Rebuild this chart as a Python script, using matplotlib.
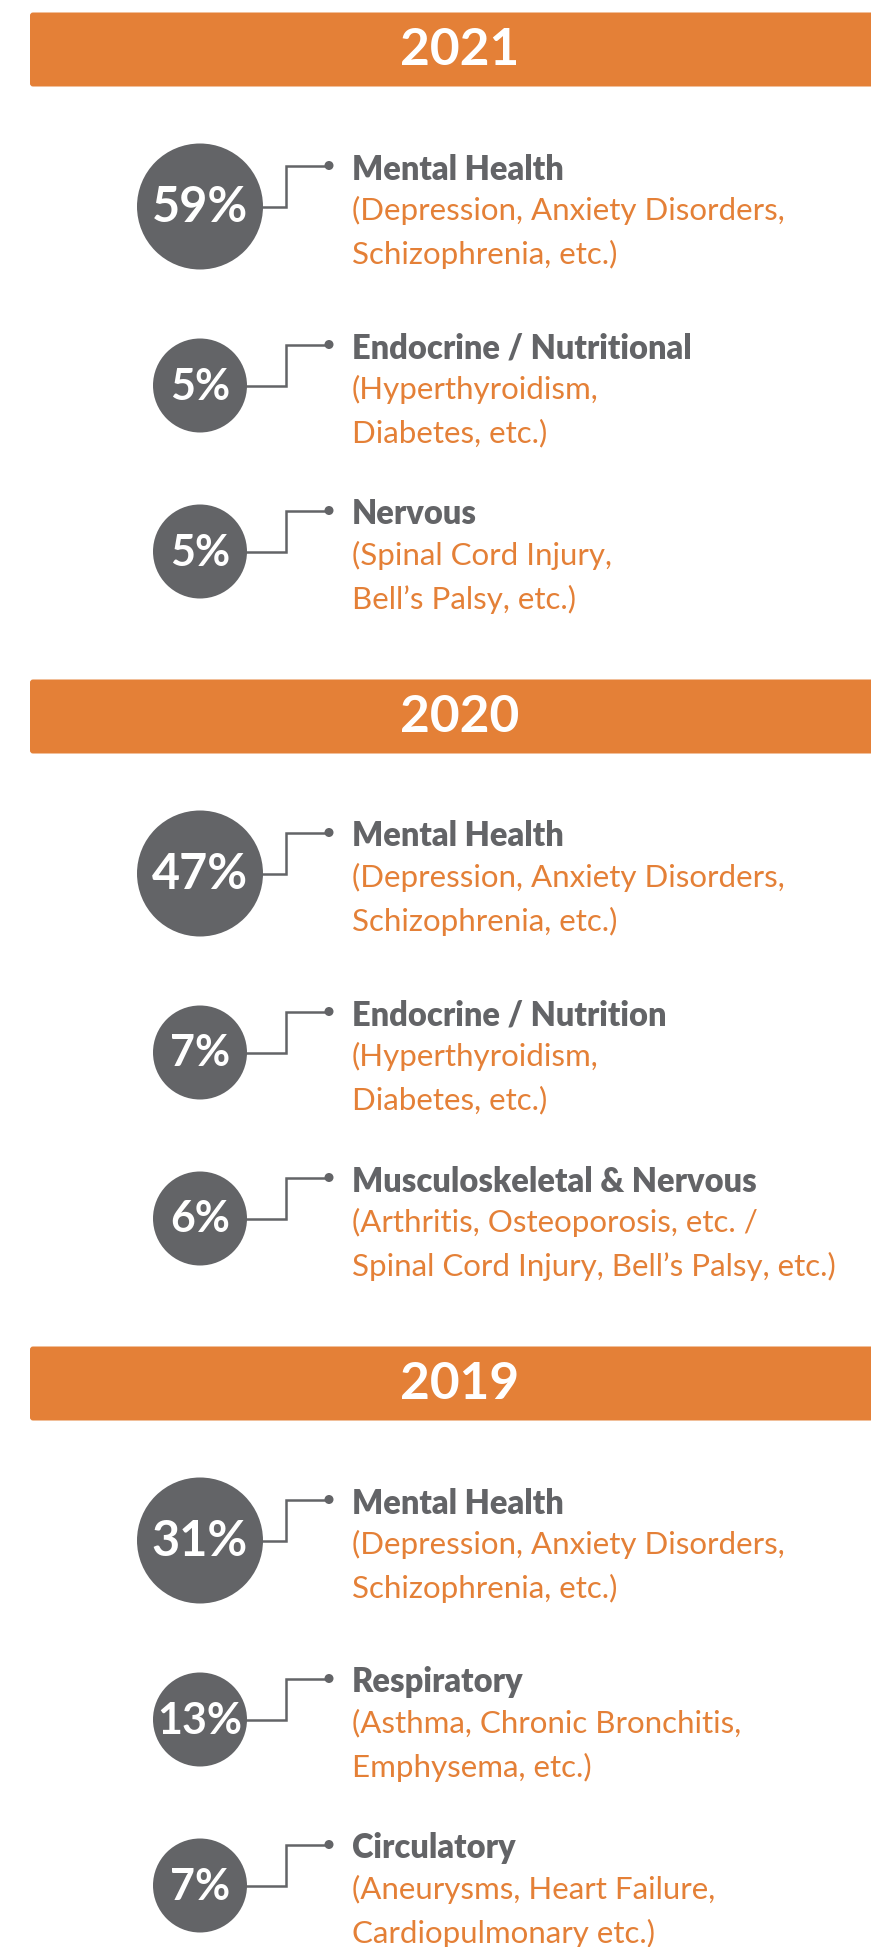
#!/usr/bin/env python3
"""
Top conditions by year: banner per year, grey percentage bubbles with
an elbow connector to the category name and its examples.
"""

import matplotlib
matplotlib.use('Agg')
import matplotlib.pyplot as plt
from matplotlib.patches import Circle, FancyBboxPatch

ORANGE = '#E48037'
GREY = '#636467'

years = ['2021', '2020', '2019']

pct_2021 = [59, 5, 5]
pct_2020 = [47, 7, 6]
pct_2019 = [31, 13, 7]

cat_2021 = ['Mental Health', 'Endocrine / Nutritional', 'Nervous']
cat_2020 = ['Mental Health', 'Endocrine / Nutrition', 'Musculoskeletal & Nervous']
cat_2019 = ['Mental Health', 'Respiratory', 'Circulatory']

ex_2021 = [
    ['(Depression, Anxiety Disorders,', 'Schizophrenia, etc.)'],
    ['(Hyperthyroidism,', 'Diabetes, etc.)'],
    ['(Spinal Cord Injury,', 'Bell\u2019s Palsy, etc.)'],
]
ex_2020 = [
    ['(Depression, Anxiety Disorders,', 'Schizophrenia, etc.)'],
    ['(Hyperthyroidism,', 'Diabetes, etc.)'],
    ['(Arthritis, Osteoporosis, etc. /', 'Spinal Cord Injury, Bell\u2019s Palsy, etc.)'],
]
ex_2019 = [
    ['(Depression, Anxiety Disorders,', 'Schizophrenia, etc.)'],
    ['(Asthma, Chronic Bronchitis,', 'Emphysema, etc.)'],
    ['(Aneurysms, Heart Failure,', 'Cardiopulmonary etc.)'],
]

W, H = 871, 1947
fig = plt.figure(figsize=(W / 100, H / 100), dpi=100)
ax = fig.add_axes([0, 0, 1, 1])
ax.set_xlim(0, W)
ax.set_ylim(H, 0)
ax.axis('off')

FONT = 'Lato'
section_step = 667
banner_y0 = 49.5
item_offsets = [157, 336, 502]

cx = 200          # bubble centre x
elbow_x = 286     # vertical part of connector
dot_x = 329
text_x = 352

sections = zip(years, [pct_2021, pct_2020, pct_2019],
               [cat_2021, cat_2020, cat_2019], [ex_2021, ex_2020, ex_2019])

for s, (year, pcts, cats, exs) in enumerate(sections):
    by = banner_y0 + s * section_step
    ax.add_patch(FancyBboxPatch((30, by - 37), 900, 74,
                                boxstyle='round,pad=0,rounding_size=3',
                                fc=ORANGE, ec='none'))
    ax.text(460, by + 1, year, color='white', fontsize=37, fontweight='bold',
            family=FONT, ha='center', va='center')

    for i, (p, cat, ex) in enumerate(zip(pcts, cats, exs)):
        cy = by + item_offsets[i]
        big = i == 0
        r = 63 if big else 47
        ax.add_patch(Circle((cx, cy), r, fc=GREY, ec='none', zorder=2))
        ax.text(cx, cy + 1, f'{p}%', color='white',
                fontsize=35 if big else 31,
                fontweight='bold', family=FONT, ha='center', va='center',
                zorder=3)

        hy = cy - 41
        ax.plot([cx + r - 2, elbow_x, elbow_x, dot_x], [cy, cy, hy, hy],
                color=GREY, lw=1.8, solid_joinstyle='miter', zorder=1)
        ax.add_patch(Circle((dot_x, hy), 4.5, fc=GREY, ec='none'))

        ax.text(text_x, hy + 4, cat, color=GREY, fontsize=23.5,
                fontweight='heavy', family=FONT, ha='left', va='center')
        for j, line in enumerate(ex):
            ax.text(text_x, cy + 4 + 43.5 * j, line, color=ORANGE,
                    fontsize=22.5, family=FONT, ha='left', va='center')

fig.savefig('out.png', dpi=100, facecolor='white')
